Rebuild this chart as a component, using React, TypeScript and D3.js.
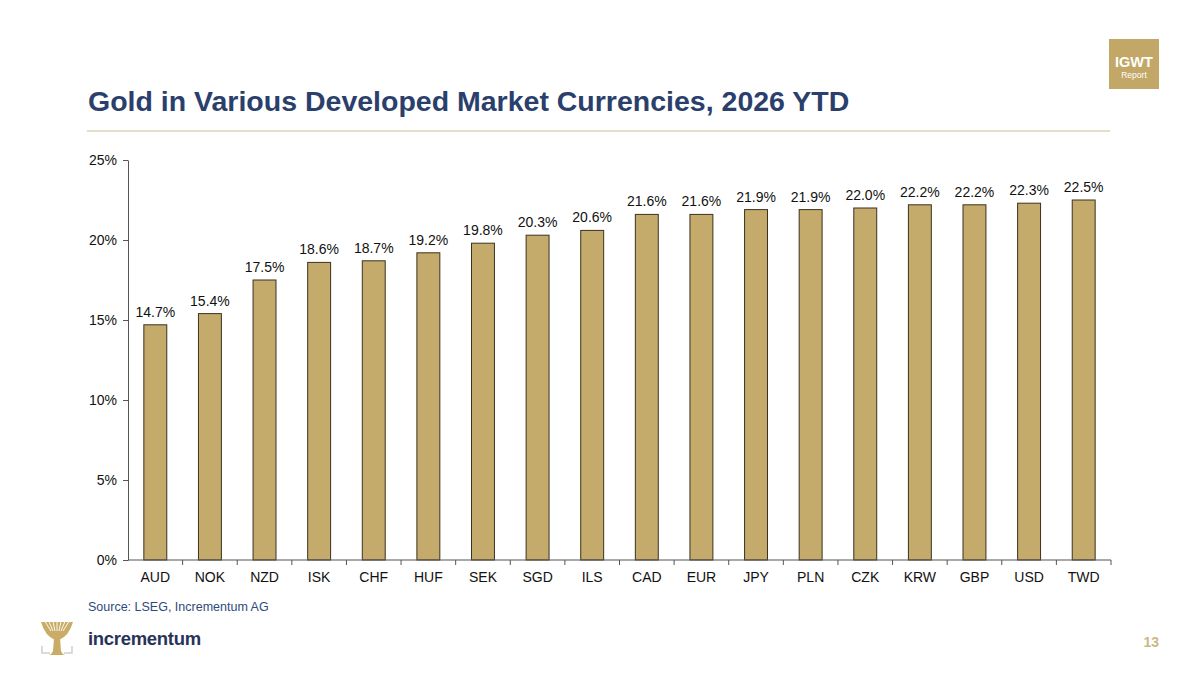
import {useEffect, useRef} from "react";
import * as d3 from "d3";

// Data
const currencies = ["AUD", "NOK", "NZD", "ISK", "CHF", "HUF", "SEK", "SGD", "ILS", "CAD", "EUR", "JPY", "PLN", "CZK", "KRW", "GBP", "USD", "TWD"];
const ytdReturns = [14.7, 15.4, 17.5, 18.6, 18.7, 19.2, 19.8, 20.3, 20.6, 21.6, 21.6, 21.9, 21.9, 22.0, 22.2, 22.2, 22.3, 22.5];
const yTicks = [0, 5, 10, 15, 20, 25];

const W = 1200;
const H = 675;
const FONT = "Arial, 'Liberation Sans', Helvetica, sans-serif";
const GOLD = "#c4aa6b";
const NAVY = "#2b3f6c";

const App = () => {
    const svgRef = useRef<SVGSVGElement>(null);

    useEffect(() => {
        const svg = d3.select(svgRef.current);
        svg.selectAll("*").remove();

        const left = 128, right = 1111, top = 160, bottom = 560;

        const x = d3.scaleBand().domain(currencies).range([left, right]).paddingInner(0.58).paddingOuter(0.29);
        const xTicks = d3.scaleBand().domain(currencies).range([left, right]);
        const y = d3.scaleLinear().domain([0, 25]).range([bottom, top]);

        // header
        svg.append("text")
            .attr("x", 88).attr("y", 111)
            .attr("font-family", FONT).attr("font-size", 28.5).attr("font-weight", "bold")
            .attr("fill", NAVY)
            .text("Gold in Various Developed Market Currencies, 2026 YTD");

        svg.append("line")
            .attr("x1", 87).attr("x2", 1110).attr("y1", 131).attr("y2", 131)
            .attr("stroke", "#ddd3b5").attr("stroke-width", 1.5);

        const badge = svg.append("g").attr("transform", "translate(1109,39)");
        badge.append("rect").attr("width", 50).attr("height", 50).attr("fill", "#c2a766");
        badge.append("text").attr("x", 25).attr("y", 28).attr("text-anchor", "middle")
            .attr("font-family", FONT).attr("font-size", 14.5).attr("font-weight", "bold").attr("fill", "#fff")
            .text("IGWT");
        badge.append("text").attr("x", 25).attr("y", 39).attr("text-anchor", "middle")
            .attr("font-family", FONT).attr("font-size", 8.5).attr("fill", "#fff")
            .text("Report");

        // bars
        svg.append("g").selectAll("rect")
            .data(ytdReturns)
            .join("rect")
            .attr("x", (d, i) => x(currencies[i]))
            .attr("y", d => y(d))
            .attr("width", x.bandwidth())
            .attr("height", d => y(0) - y(d))
            .attr("fill", GOLD)
            .attr("stroke", "#3b3220")
            .attr("stroke-width", 1);

        svg.append("g").selectAll("text")
            .data(ytdReturns)
            .join("text")
            .attr("x", (d, i) => x(currencies[i]) + x.bandwidth() / 2)
            .attr("y", d => y(d) - 8)
            .attr("text-anchor", "middle")
            .attr("font-family", FONT).attr("font-size", 14).attr("fill", "#111")
            .text(d => `${d.toFixed(1)}%`);

        // y axis
        const yAxis = svg.append("g")
            .attr("transform", `translate(${left},0)`)
            .call(d3.axisLeft(y).tickValues(yTicks).tickSize(5).tickSizeOuter(0).tickFormat(d => `${d}%`));
        yAxis.select(".domain").attr("stroke", "#555");
        yAxis.selectAll(".tick line").attr("stroke", "#555");
        yAxis.selectAll(".tick text")
            .attr("x", -11)
            .attr("font-family", FONT).attr("font-size", 14).attr("fill", "#111");

        // x axis
        const xAxis = svg.append("g").attr("transform", `translate(0,${bottom})`);
        xAxis.append("line").attr("x1", left).attr("x2", right).attr("stroke", "#555");
        xAxis.selectAll("line.tk")
            .data(currencies)
            .join("line")
            .attr("class", "tk")
            .attr("x1", d => xTicks(d) + xTicks.bandwidth())
            .attr("x2", d => xTicks(d) + xTicks.bandwidth())
            .attr("y1", 0).attr("y2", 5)
            .attr("stroke", "#555");
        xAxis.selectAll("text")
            .data(currencies)
            .join("text")
            .attr("x", d => xTicks(d) + xTicks.bandwidth() / 2)
            .attr("y", 22)
            .attr("text-anchor", "middle")
            .attr("font-family", FONT).attr("font-size", 14).attr("fill", "#111")
            .text(d => d);

        // footer
        svg.append("text")
            .attr("x", 88).attr("y", 611)
            .attr("font-family", FONT).attr("font-size", 12.5).attr("fill", "#2e4a7c")
            .text("Source: LSEG, Incrementum AG");

        // tree logo
        const logo = svg.append("g").attr("transform", "translate(57,655)");
        // crown
        logo.append("path")
            .attr("d", "M-2,-15 Q-12,-19 -16,-33 L16,-33 Q12,-19 2,-15 Z")
            .attr("fill", "#c9ad66");
        const gaps = [-12, -8, -4, 0, 4, 8, 12];
        logo.selectAll("path.gap")
            .data(gaps)
            .join("path")
            .attr("class", "gap")
            .attr("d", t => `M${t * 0.5},-24 L${t},-33.5`)
            .attr("stroke", "#fff").attr("stroke-width", 0.9).attr("fill", "none");
        // trunk
        logo.append("path")
            .attr("d", "M-3,-17 L3,-17 L4,-4 Q5,-1 8,0 L-8,0 Q-5,-1 -4,-4 Z")
            .attr("fill", "#c9ad66");
        logo.append("path").attr("d", "M-15,-9 V-2 H-7 M15,-9 V-2 H7")
            .attr("stroke", "#cfcfcf").attr("stroke-width", 1.5).attr("fill", "none");

        svg.append("text")
            .attr("x", 88).attr("y", 645)
            .attr("font-family", FONT).attr("font-size", 18.5).attr("font-weight", "bold")
            .attr("fill", "#28335a").attr("letter-spacing", -0.3)
            .text("incrementum");

        svg.append("text")
            .attr("x", 1159).attr("y", 647).attr("text-anchor", "end")
            .attr("font-family", FONT).attr("font-size", 14).attr("font-weight", "bold")
            .attr("fill", "#cbb882")
            .text("13");
    }, []);

    return (
        <>
            <style>{`body{margin:0;background:#fff}`}</style>
            <svg ref={svgRef} width={W} height={H} style={{display: "block", background: "#fff"}} />
        </>
    );
};

export default App;
